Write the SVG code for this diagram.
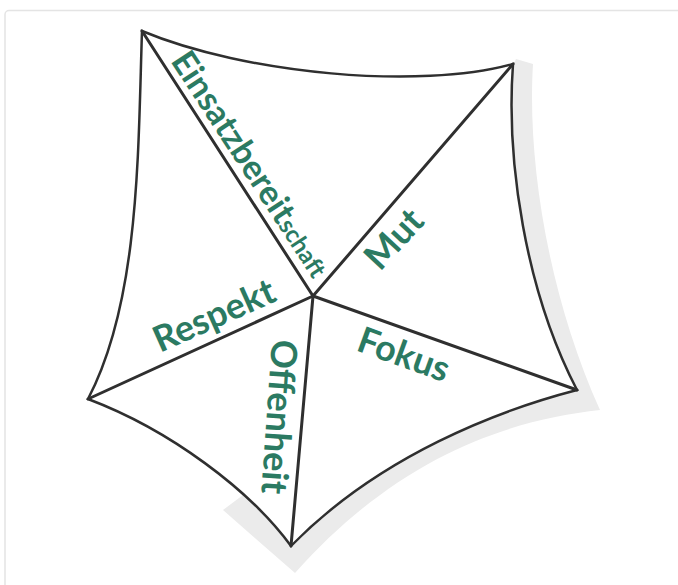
<svg xmlns="http://www.w3.org/2000/svg" width="678" height="585" viewBox="0 0 678 585">
  <style>
    .edge { fill: #ffffff; stroke: #2f2f2f; stroke-width: 2.5; stroke-linejoin: miter; }
    .spoke { stroke: #2f2f2f; stroke-width: 3; stroke-linecap: round; fill: none; }
    .lbl { font-family: Lato, "Open Sans", sans-serif; font-weight: 700; fill: #2b7a62; font-size: 36px; }
    .small { font-size: 24px; }
  </style>
  <rect x="5" y="10.5" width="700" height="600" rx="4" fill="#ffffff" stroke="#e4e4e4" stroke-width="1.5"/>
  <g id="shadow">
    <path d="M 247,492 L 223,510 L 295,573 C 400,455 510,420 600,410 C 548,295 527,160 533,64 L 516,59 L 450,200 L 330,380 Z" fill="#ebebeb"/>
  </g>
  <g id="outline">
    <path class="edge" d="M 142,31 C 245,74 420,90 513,64 C 506,160 525,290 577,390 C 500,410 380,455 291,546 C 250,490 170,430 88,399 C 140,300 138,150 142,31 Z"/>
  </g>
  <g id="connectors">
    <line class="spoke" x1="313" y1="296" x2="142" y2="31"/>
    <line class="spoke" x1="313" y1="296" x2="513" y2="64"/>
    <line class="spoke" x1="313" y1="296" x2="577" y2="390"/>
    <line class="spoke" x1="313" y1="296" x2="291" y2="546"/>
    <line class="spoke" x1="313" y1="296" x2="88" y2="399"/>
  </g>
  <g id="einsatzbereitschaft">
    <text class="lbl" transform="translate(170,61) rotate(56.8)" style="font-size:34px">Einsatzbereit<tspan class="small">schaft</tspan></text>
  </g>
  <g id="mut">
    <text class="lbl" transform="translate(380,272) rotate(-47)">Mut</text>
  </g>
  <g id="respekt">
    <text class="lbl" transform="translate(160,353) rotate(-24)">Respekt</text>
  </g>
  <g id="fokus">
    <text class="lbl" transform="translate(355,350) rotate(20)">Fokus</text>
  </g>
  <g id="offenheit">
    <text class="lbl" transform="translate(272,339) rotate(94)">Offenheit</text>
  </g>
</svg>
